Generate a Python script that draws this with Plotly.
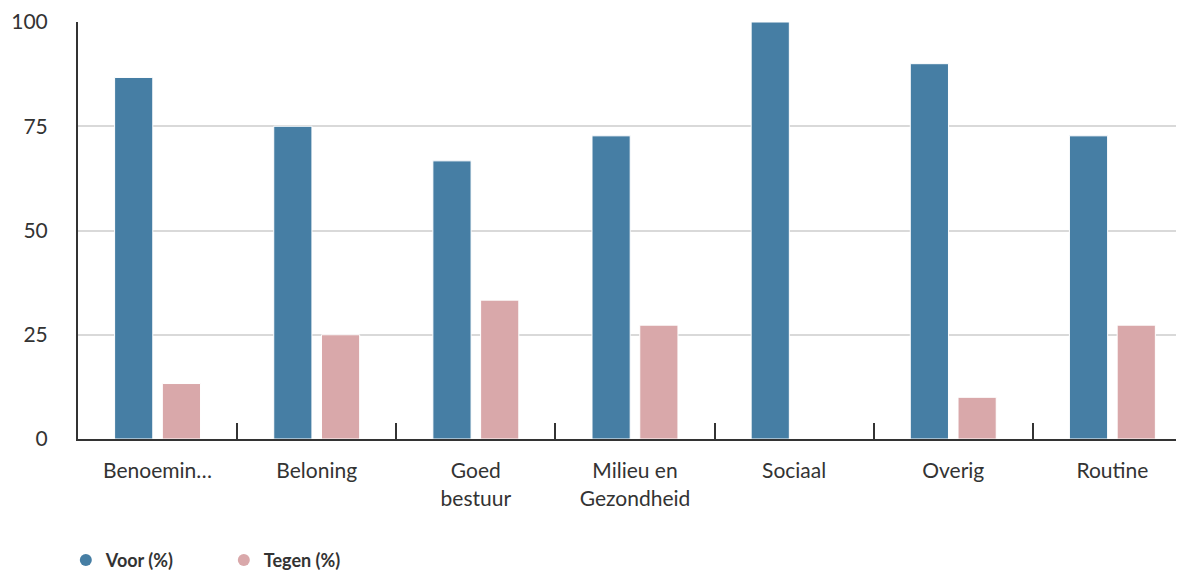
import plotly.graph_objects as go

categories = ["Benoemin…", "Beloning", "Goed<br>bestuur", "Milieu en<br>Gezondheid", "Sociaal", "Overig", "Routine"]
voor = [86.7, 75, 66.7, 72.7, 100, 90, 72.7]
tegen = [13.3, 25, 33.3, 27.3, 0, 10, 27.3]
series_names = ["Voor (%)", "Tegen (%)"]
colors = ["#467ea4", "#d9a8aa"]
y_ticks = [0, 25, 50, 75, 100]

FONT = "Lato, 'Open Sans', sans-serif"

fig = go.Figure()
for name, vals, col in zip(series_names, [voor, tegen], colors):
    fig.add_trace(go.Bar(
        x=categories, y=vals, name=name, showlegend=False,
        marker=dict(color=col, line=dict(color="white", width=1)),
    ))
for name, col in zip(series_names, colors):
    fig.add_trace(go.Scatter(
        x=[None], y=[None], mode="markers", name=name,
        marker=dict(symbol="circle", size=12, color=col),
    ))

fig.update_layout(
    width=1184, height=572,
    margin=dict(l=70, r=8, t=14, b=141, autoexpand=False),
    plot_bgcolor="white", paper_bgcolor="white",
    barmode="group", bargap=0.4, bargroupgap=0.2,
    font=dict(family=FONT, color="#333333", size=21),
    legend=dict(
        orientation="h",
        x=-0.011, y=-0.291, xanchor="left", yanchor="middle",
        font=dict(size=18, color="#333333", family=FONT, weight="bold"),
        entrywidth=113, entrywidthmode="pixels",
        itemclick=False,
    ),
)
fig.update_xaxes(
    range=[-0.5, 6.45], showline=True, linecolor="#333333", linewidth=2,
    ticks="inside", tickson="boundaries", ticklen=16, tickwidth=2, tickcolor="#333333",
    tickfont=dict(size=21, color="#333333"), showgrid=False, automargin=False,
    ticklabelstandoff=12,
)
fig.update_yaxes(
    range=[0, 100], tickvals=y_ticks, showline=True, linecolor="#333333", linewidth=2,
    gridcolor="#d9d9d9", gridwidth=2, zeroline=False, automargin=False,
    tickfont=dict(size=21, color="#333333"), ticks="", ticklabelstandoff=24,
)

fig.write_html("out.html")
